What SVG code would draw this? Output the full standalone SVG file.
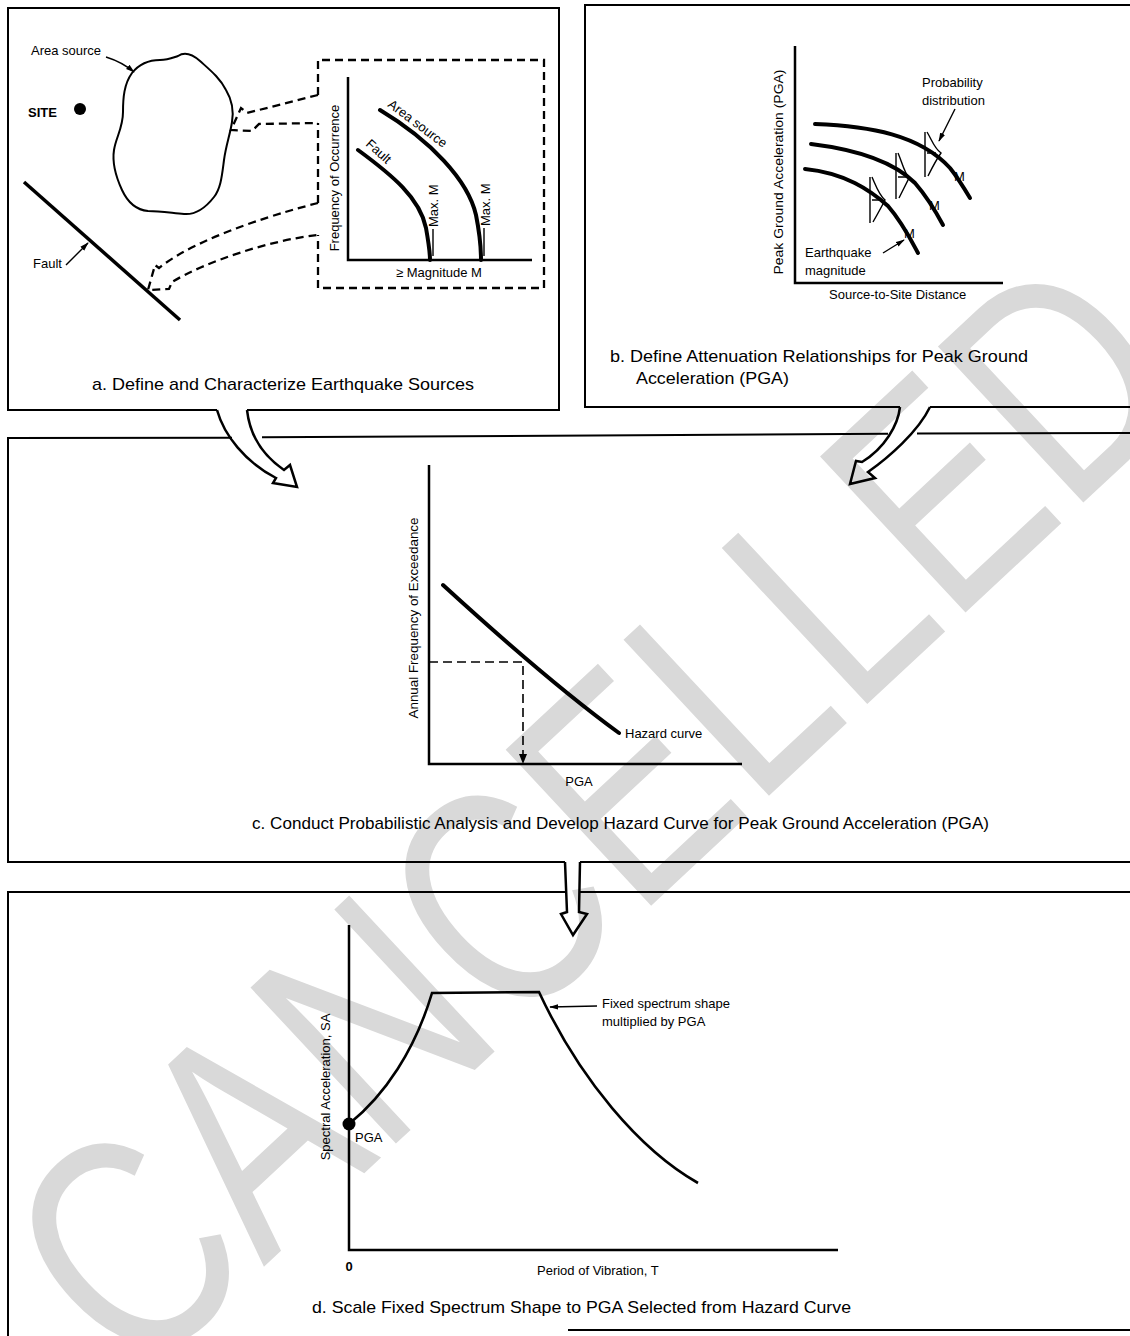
<svg xmlns="http://www.w3.org/2000/svg" width="1130" height="1336" viewBox="0 0 1130 1336">
<defs>
<style>
text{font-family:"Liberation Sans",Arial,sans-serif;fill:#000;font-size:13px}
.cap{font-size:17px}
.b{fill:none;stroke:#000;stroke-width:2}
.ax{fill:none;stroke:#000;stroke-width:2.5}
.cv{fill:none;stroke:#000;stroke-width:4;stroke-linecap:round}
.thin{fill:none;stroke:#000;stroke-width:1.4}
.dash{fill:none;stroke:#000;stroke-width:2.3;stroke-dasharray:8 5}
.big{fill:none;stroke:#000;stroke-width:2.5;stroke-linejoin:miter}
.wm{font-size:310px;fill:#d9d9d9}
</style>
<marker id="ah" viewBox="0 0 10 6" refX="9" refY="3" markerWidth="9" markerHeight="6" markerUnits="userSpaceOnUse" orient="auto">
<path d="M0,0 L10,3 L0,6 z" fill="#000"/>
</marker>
</defs>
<rect x="0" y="0" width="1130" height="1336" fill="#fff"/>
<g id="watermark">
<text class="wm" transform="translate(136,1386) rotate(-43)" textLength="1450" lengthAdjust="spacingAndGlyphs">CANCELLED</text>
</g>

<g id="panel-a">
<path class="b" d="M217,410 L8,410 L8,8 L559,8 L559,410 L247,410"/>
<text x="31" y="55">Area source</text>
<path class="thin" d="M106,57 Q122,62 134,72" marker-end="url(#ah)"/>
<path fill="none" stroke="#000" stroke-width="2" d="M178,56 C184,52 192,54 200,61 C210,70 220,78 226,90 C232,100 234,110 232,122 C230,135 226,145 224,160 C222,175 221,188 214,197 C207,206 196,215 184,214 C172,213 160,211 148,211 C137,210 128,203 122,190 C116,177 112,163 114,150 C116,137 123,128 123,112 C123,98 124,84 132,73 C140,63 150,60 160,60 C168,60 172,58 178,56 Z"/>
<text x="28" y="117" font-weight="bold" font-size="17">SITE</text>
<circle cx="80" cy="109" r="6"/>
<line x1="24" y1="182" x2="180" y2="320" stroke="#000" stroke-width="3.5"/>
<text x="33" y="268">Fault</text>
<path class="thin" d="M66,265 L88,243" marker-end="url(#ah)"/>
<path class="dash" d="M318,95 L318,60 L544,60 L544,288 L318,288 L318,235"/>
<path class="dash" d="M318,203 L318,123"/>
<path class="ax" d="M348,77 L348,260 L532,260"/>
<text transform="translate(339,178) rotate(-90)" text-anchor="middle">Frequency of Occurrence</text>
<text x="396" y="277">≥ Magnitude M</text>
<path class="cv" d="M358,150 C392,175 420,198 426,228 C429,245 430,252 430,260"/>
<path class="cv" d="M380,110 C430,140 468,180 476,215 C480,235 481,250 481,260"/>
<text transform="translate(387,106) rotate(37)">Area source</text>
<text transform="translate(365,145) rotate(42)">Fault</text>
<line class="thin" x1="433" y1="229" x2="433" y2="256"/>
<text transform="translate(438,227) rotate(-90)">Max. M</text>
<line class="thin" x1="484" y1="228" x2="484" y2="256"/>
<text transform="translate(490,226) rotate(-90)">Max. M</text>
<path class="dash" d="M318,95 L247,113 L241,108 L231,130 L252,131 L259,124 L318,123"/>
<path class="dash" d="M318,203 C290,210 200,235 159,268 L155,265 L148,290 L169,289 L172,282 C205,262 270,240 318,235"/>
<text class="cap" x="92" y="390" textLength="382" lengthAdjust="spacingAndGlyphs">a.  Define and Characterize Earthquake Sources</text>
</g>

<g id="panel-b">
<path class="b" d="M900,407 L585,407 L585,5 L1130,5"/>
<line class="b" x1="930" y1="407" x2="1130" y2="407"/>
<path class="ax" d="M795,46 L795,283 L1003,283"/>
<text transform="translate(783,172) rotate(-90)" text-anchor="middle" textLength="205" lengthAdjust="spacingAndGlyphs">Peak Ground Acceleration (PGA)</text>
<text x="829" y="299">Source-to-Site Distance</text>
<path class="cv" d="M815,124 C870,126 920,135 950,168 C958,178 964,188 970,198"/>
<path class="cv" d="M811,144 C860,150 895,163 915,183 C928,198 936,212 943,225"/>
<path class="cv" d="M805,169 C845,173 870,190 888,206 C902,222 910,238 918,253"/>
<path class="thin" d="M925,132 L925,177 M927,132 C932,140 934,148 941,153 C936,160 932,168 928,176 M927,153 L936,153"/>
<path class="thin" d="M896,153 L896,199 M898,153 C902,162 904,172 909,178 C905,186 902,192 899,198 M898,177 L906,177"/>
<path class="thin" d="M870,177 L870,223 M872,177 C876,186 879,195 885,200 C881,208 877,215 873,222 M872,200 L882,200"/>
<text x="922" y="87" font-size="12.5">Probability</text>
<text x="922" y="105" font-size="12.5">distribution</text>
<path class="thin" d="M955,109 L939,141" marker-end="url(#ah)"/>
<text x="954" y="181">M</text>
<text x="929" y="210">M</text>
<text x="904" y="238">M</text>
<text x="805" y="257" font-size="12.5">Earthquake</text>
<text x="805" y="275" font-size="12.5">magnitude</text>
<path class="thin" d="M883,253 L904,240" marker-end="url(#ah)"/>
<text class="cap" x="610" y="362" textLength="418" lengthAdjust="spacingAndGlyphs">b. Define Attenuation Relationships for Peak Ground</text>
<text class="cap" x="636" y="384" textLength="153" lengthAdjust="spacingAndGlyphs">Acceleration (PGA)</text>
</g>

<g id="panel-c">
<path class="b" d="M232,437.7 L8,438 L8,862 L565,862"/>
<path class="b" d="M262,437.3 L888,433.8"/>
<path class="b" d="M917,433.6 L1130,433"/>
<line class="b" x1="580" y1="862" x2="1130" y2="862"/>
<path class="ax" d="M429,465 L429,764 L742,764"/>
<text transform="translate(418,618) rotate(-90)" text-anchor="middle" textLength="201" lengthAdjust="spacingAndGlyphs">Annual Frequency of Exceedance</text>
<path class="cv" d="M443,585 C490,628 560,690 619,733"/>
<path fill="none" stroke="#000" stroke-width="1.6" stroke-dasharray="9 5" d="M429,662 L523,662 L523,756"/>
<path d="M519,754 L527,754 L523,764 z"/>
<text x="625" y="738">Hazard curve</text>
<text x="579" y="786" text-anchor="middle">PGA</text>
<text class="cap" x="252" y="829" textLength="737" lengthAdjust="spacingAndGlyphs">c. Conduct Probabilistic Analysis and Develop Hazard Curve for Peak Ground Acceleration (PGA)</text>
</g>

<g id="panel-d">
<path class="b" d="M565,892 L8,892 L8,1336"/>
<line class="b" x1="580" y1="892" x2="1130" y2="892"/>
<line class="b" x1="568" y1="1330" x2="1130" y2="1330"/>
<path class="ax" d="M349,925 L349,1250 L838,1250"/>
<text transform="translate(330,1087) rotate(-90)" text-anchor="middle">Spectral Acceleration, SA</text>
<path fill="none" stroke="#000" stroke-width="2.6" d="M349,1124 C385,1095 415,1050 432,993 L539,992 C580,1080 640,1150 698,1183"/>
<circle cx="349" cy="1124" r="6.5"/>
<text x="355" y="1142">PGA</text>
<text x="602" y="1008">Fixed spectrum shape</text>
<text x="602" y="1026">multiplied by PGA</text>
<path class="thin" d="M597,1006 L550,1007" marker-end="url(#ah)"/>
<text x="349" y="1271" text-anchor="middle" font-weight="bold" font-size="12">0</text>
<text x="537" y="1275">Period of Vibration, T</text>
<text class="cap" x="312" y="1313" textLength="539" lengthAdjust="spacingAndGlyphs">d. Scale Fixed Spectrum Shape to PGA Selected from Hazard Curve</text>
</g>

<g id="connectors">
<path class="big" d="M217,410 C224,435 245,462 276,478 L273,483 L297,487 L290,465 L284,470 C265,457 250,437 247,410"/>
<path class="big" d="M900,407 C898,425 885,448 862,462 L856,461 L850,484 L875,478 L868,472 C888,458 918,432 930,407"/>
<path class="big" d="M565,862 L567,912 L561,914 L573,935 L587,914 L579,912 L580,862"/>
</g>
</svg>
